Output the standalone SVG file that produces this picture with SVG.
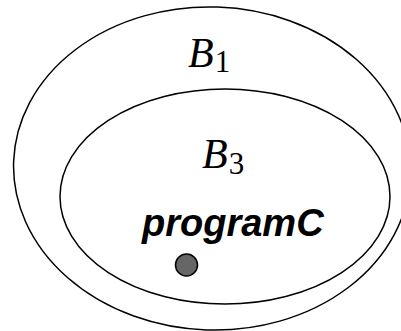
<svg xmlns="http://www.w3.org/2000/svg" width="401" height="331" viewBox="0 0 401 331">
<style>
.set{fill:none;stroke:#000;stroke-width:1.5}
.math{font-family:"Liberation Serif",serif;font-style:italic;font-size:42px;fill:#000}
.sub{font-family:"Liberation Serif",serif;font-style:normal;font-size:31px;fill:#000}
.lbl{font-family:"Liberation Sans",Arial,sans-serif;font-weight:bold;font-style:italic;font-size:38px;fill:#000}
</style>
<rect width="401" height="331" fill="#fff"/>
<g id="B1">
<ellipse class="set" cx="212" cy="168.5" rx="198.5" ry="161.5" transform="rotate(2 212 168.5)"/>
<text x="188" y="67"><tspan class="math">B</tspan><tspan class="sub" dx="1" dy="5">1</tspan></text>
</g>
<g id="B3">
<ellipse class="set" cx="225" cy="196.5" rx="165" ry="107.5"/>
<text x="202" y="168"><tspan class="math">B</tspan><tspan class="sub" dx="1" dy="6">3</tspan></text>
</g>
<g id="programC">
<text class="lbl" x="142" y="236">programC</text>
<circle cx="186.5" cy="265" r="11" fill="#666" stroke="#000" stroke-width="1.5"/>
</g>
</svg>
